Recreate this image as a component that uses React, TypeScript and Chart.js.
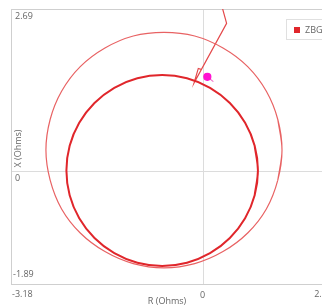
import { useEffect, useRef } from "react";
import { Chart, registerables } from "chart.js";

Chart.register(...registerables);

// Axis ticks (only min, zero, max are labelled)
const xTicks = [-3.18, 0, 2.15];
const yTicks = [-1.89, 0, 2.69];
const xTitle = "R (Ohms)";
const yTitle = "X (Ohms)";
const legendLabel = "ZBG";

// Outer characteristic (R, X) (closed loop, first/last points overlap)
const outerR = [1.25, 1.32, 1.25, 1.06, 0.75, 0.34, -0.13, -0.64, -1.15, -1.62, -2.03, -2.34, -2.53, -2.6, -2.53, -2.34, -2.03, -1.62, -1.15, -0.64, -0.13, 0.34, 0.75, 1.06, 1.25, 1.32, 1.25];
const outerX = [-0.16, 0.34, 0.85, 1.32, 1.73, 2.04, 2.24, 2.3, 2.24, 2.04, 1.73, 1.32, 0.85, 0.34, -0.16, -0.64, -1.04, -1.35, -1.55, -1.62, -1.55, -1.35, -1.04, -0.64, -0.16, 0.34, 0.85];

// Inner characteristic (R, X)
const innerR = [0.866, 0.92, 0.866, 0.707, 0.454, 0.125, -0.258, -0.67, -1.082, -1.465, -1.794, -2.047, -2.206, -2.26, -2.206, -2.047, -1.794, -1.465, -1.082, -0.67, -0.258, 0.125, 0.454, 0.707, 0.866, 0.92, 0.866];
const innerX = [-0.412, 0.0, 0.412, 0.795, 1.124, 1.377, 1.536, 1.59, 1.536, 1.377, 1.124, 0.795, 0.412, 0.0, -0.412, -0.795, -1.124, -1.377, -1.536, -1.59, -1.536, -1.377, -1.124, -0.795, -0.412, 0.0, 0.412];

// Impedance trajectory
const traceR = [0.31, 0.4, -0.14, -0.07, -0.01];
const traceX = [2.78, 2.45, 1.46, 1.7, 1.68];

// Current impedance point with its short tail
const currentR = [0.08, 0.18];
const currentX = [1.56, 1.48];

const toPts = (rs: number[], xs: number[]) => rs.map((r, i) => ({ x: r, y: xs[i] }));

const FONT = '9px "Open Sans", "Noto Sans", sans-serif';
const TEXT = "#666";

const decor = {
  id: "decor",
  beforeDatasetsDraw(chart: any) {
    const { ctx, chartArea: a, scales } = chart;
    const x0 = scales.x.getPixelForValue(0);
    const y0 = scales.y.getPixelForValue(0);
    ctx.save();
    ctx.strokeStyle = "#dcdcdc";
    ctx.lineWidth = 1;
    ctx.beginPath();
    ctx.moveTo(Math.round(x0) + 0.5, a.top);
    ctx.lineTo(Math.round(x0) + 0.5, a.bottom);
    ctx.moveTo(a.left, Math.round(y0) + 0.5);
    ctx.lineTo(a.right, Math.round(y0) + 0.5);
    ctx.stroke();
    ctx.strokeStyle = "#cfcfcf";
    ctx.strokeRect(Math.round(a.left) + 0.5, Math.round(a.top) + 0.5, Math.round(a.right - a.left), Math.round(a.bottom - a.top));
    ctx.restore();
  },
  afterDraw(chart: any) {
    const { ctx, chartArea: a, scales } = chart;
    ctx.save();
    ctx.font = FONT;
    ctx.fillStyle = TEXT;
    // y tick labels (inside the plot)
    yTicks.forEach((v, i) => {
      const p = scales.y.getPixelForValue(v);
      ctx.textAlign = "left";
      if (i === 0) {
        ctx.textBaseline = "bottom";
        ctx.fillText(String(v), a.left + 2, p - 5);
      } else {
        ctx.textBaseline = "top";
        ctx.fillText(String(v), a.left + 4, p + 3);
      }
    });
    // x tick labels
    xTicks.forEach((v, i) => {
      const p = scales.x.getPixelForValue(v);
      ctx.textBaseline = "middle";
      if (i === 0) {
        ctx.textAlign = "left";
        ctx.fillText(String(v), p + 1, a.bottom + 10);
      } else if (i === xTicks.length - 1) {
        ctx.textAlign = "right";
        ctx.fillText(String(v), p, a.bottom + 10);
      } else {
        ctx.textAlign = "center";
        ctx.fillText(String(v), p, a.bottom + 11);
      }
    });
    // axis titles
    ctx.textAlign = "center";
    ctx.textBaseline = "middle";
    ctx.fillText(xTitle, 167, a.bottom + 17);
    ctx.save();
    ctx.translate(a.left + 7.5, 148.5);
    ctx.rotate(-Math.PI / 2);
    ctx.fillText(yTitle, 0, 0);
    ctx.restore();
    // legend box
    const bx = 286.5, by = 19.5, bw = 42, bh = 20;
    ctx.fillStyle = "#fff";
    ctx.fillRect(bx, by, bw, bh);
    ctx.strokeStyle = "#e0e0e0";
    ctx.lineWidth = 1;
    ctx.strokeRect(bx, by, bw, bh);
    ctx.fillStyle = "#e0262b";
    ctx.fillRect(294, 27, 6, 6);
    ctx.fillStyle = TEXT;
    ctx.textAlign = "left";
    ctx.textBaseline = "middle";
    ctx.fillText(legendLabel, 305, 30.5);
    ctx.restore();
  },
};

export default function App() {
  const ref = useRef<HTMLCanvasElement | null>(null);
  useEffect(() => {
    if (!ref.current) return;
    const chart = new Chart(ref.current, {
      type: "scatter",
      data: {
        datasets: [
          {
            label: "outer",
            data: toPts(outerR, outerX),
            showLine: true,
            borderColor: "#e86263",
            borderWidth: 1.2,
            pointRadius: 0,
            tension: 0.335,
          },
          {
            label: legendLabel,
            data: toPts(innerR, innerX),
            showLine: true,
            borderColor: "#e0262b",
            borderWidth: 2,
            pointRadius: 0,
            tension: 0.335,
          },
          {
            label: "trace",
            data: toPts(traceR, traceX),
            showLine: true,
            borderColor: "#e4484a",
            borderWidth: 1.2,
            pointRadius: 0,
            tension: 0,
          },
          {
            label: "current",
            data: toPts(currentR, currentX),
            showLine: true,
            borderColor: "#f070c8",
            borderWidth: 1.2,
            pointRadius: [3.5, 0],
            pointBackgroundColor: "#ff10d0",
            pointBorderColor: "#ff10d0",
            tension: 0,
          },
        ],
      },
      options: {
        responsive: false,
        animation: false,
        events: [],
        layout: { padding: { left: 11, top: 9, right: 8, bottom: 21 } },
        plugins: { legend: { display: false }, tooltip: { enabled: false } },
        scales: {
          x: {
            type: "linear",
            min: xTicks[0],
            max: xTicks[xTicks.length - 1],
            grid: { display: false, drawTicks: false },
            border: { display: false },
            ticks: { display: false },
          },
          y: {
            type: "linear",
            min: yTicks[0],
            max: yTicks[yTicks.length - 1],
            grid: { display: false, drawTicks: false },
            border: { display: false },
            ticks: { display: false },
          },
        },
      },
      plugins: [decor],
    });
    return () => chart.destroy();
  }, []);
  return (
    <div style={{ position: "absolute", left: 0, top: 0, width: 322, height: 305, overflow: "hidden", background: "#fff" }}>
      <canvas ref={ref} width={340} height={305} style={{ display: "block" }} />
    </div>
  );
}
